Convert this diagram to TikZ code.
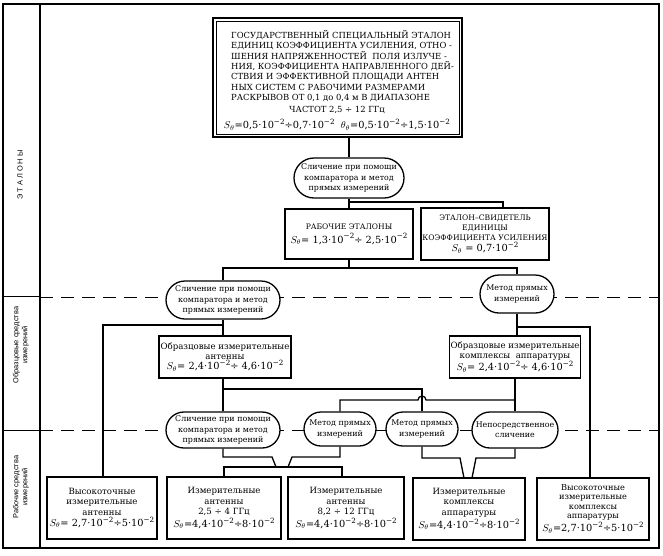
\documentclass[tikz,border=0pt]{standalone}
\usepackage{fontspec}
\setmainfont{DejaVu Serif}
\setsansfont{Liberation Sans}
\usetikzlibrary{shapes.misc}
\newcommand\ex[1]{\raisebox{0.42em}{\fontsize{7.2}{8}\selectfont #1}}
\newcommand\tm{·10\ex{−2}}
\newcommand\Sz{$S_\theta$}
\newcommand\fm[1]{{\fontsize{9.8}{11}\selectfont #1}}
\begin{document}
\begin{tikzpicture}[x=1pt,y=-1pt,
  ln/.style={line width=1.3pt},
  rbox/.style={draw, line width=1.6pt, fill=white, inner sep=1pt, align=center, font=\fontsize{8.6}{10.4}\selectfont},
  cbox/.style={rbox, font=\fontsize{7.6}{10}\selectfont},
  oval/.style={rounded rectangle, draw, line width=1.3pt, fill=white, inner sep=1pt, align=center, font=\fontsize{7.9}{10.3}\selectfont},
  dsh/.style={line width=1pt, dash pattern=on 13pt off 8pt},
  lab/.style={font=\sffamily\fontsize{7.4}{9}\selectfont, rotate=90, align=center},
  capt/.style={inner sep=0pt, font=\fontsize{8.4}{10.4}\selectfont}
]
\useasboundingbox (0,0) rectangle (663,555);
% frame
\draw[line width=1.2pt] (3,4) rectangle (659,548);
\draw[line width=1.2pt] (40,4) -- (40,548);
\draw[line width=1pt] (3,296) -- (40,296) (3,430) -- (40,430);
\draw[dsh] (40,297) -- (659,297);
\draw[dsh] (40,430) -- (659,430);
% side labels
\node[lab] (l1) at (20,175) {Э\ Т\ А\ Л\ О\ Н\ Ы};
\node[lab] (l2) at (21,345) {Образцовые средства\\измерений};
\node[lab] (l3) at (21,487) {Рабочие средства\\измерений};
% top box
\node[draw, line width=1.8pt, minimum width=249, minimum height=119, inner sep=0] (top) at (337.5,77.5) {};
\draw[line width=0.6pt] ([shift={(4,4)}]top.north west) rectangle ([shift={(-4,-4)}]top.south east);
\node[capt, anchor=north west, align=left] (toptxt) at (231,30) {ГОСУДАРСТВЕННЫЙ СПЕЦИАЛЬНЫЙ ЭТАЛОН\\
ЕДИНИЦ КОЭФФИЦИЕНТА УСИЛЕНИЯ, ОТНО -\\
ШЕНИЯ НАПРЯЖЕННОСТЕЙ\ \ ПОЛЯ ИЗЛУЧЕ -\\
НИЯ, КОЭФФИЦИЕНТА НАПРАВЛЕННОГО ДЕЙ-\\
СТВИЯ И ЭФФЕКТИВНОЙ ПЛОЩАДИ АНТЕН\\
НЫХ СИСТЕМ С РАБОЧИМИ РАЗМЕРАМИ\\
РАСКРЫВОВ ОТ 0,1 до 0,4 м В ДИАПАЗОНЕ};
\node[capt] (topfreq) at (337,110) {ЧАСТОТ 2,5 ÷ 12 ГГц};
\node[inner sep=0] (topform) at (337,125) {\fm{\Sz=0,5\tm÷0,7\tm\ \ $\theta_\theta$=0,5\tm÷1,5\tm}};
% level 1
\node[oval, minimum width=112, minimum height=40] (ov1) at (349,178) {Сличение при помощи\\компаратора и метод\\прямых измерений};
\node[cbox, minimum width=128, minimum height=50] (we1) at (349,234) {РАБОЧИЕ ЭТАЛОНЫ\\[4pt]\fm{\Sz= 1,3\tm ÷ 2,5\tm}};
\node[cbox, minimum width=128, minimum height=52, font=\fontsize{7.6}{9.8}\selectfont] (we2) at (485,234) {ЭТАЛОН–СВИДЕТЕЛЬ\\ЕДИНИЦЫ\\КОЭФФИЦИЕНТА УСИЛЕНИЯ\\\fm{\Sz\ = 0,7\tm}};
% level 2
\node[oval, minimum width=116, minimum height=38] (ov2) at (223,300) {Сличение при помощи\\компаратора и метод\\прямых измерений};
\node[oval, minimum width=76, minimum height=38] (ov3) at (517,294) {Метод прямых\\измерений};
\node[rbox, minimum width=132, minimum height=42] (ob1) at (225,357) {Образцовые измерительные\\антенны\\\fm{\Sz= 2,4\tm÷ 4,6\tm}};
\node[rbox, minimum width=130, minimum height=42] (ob2) at (515,357) {Образцовые измерительные\\комплексы\ \ аппаратуры\\\fm{\Sz= 2,4\tm÷ 4,6\tm}};
% level 3 ovals
\node[oval, minimum width=116, minimum height=36] (ov4) at (223,430) {Сличение при помощи\\компаратора и метод\\прямых измерений};
\node[oval, minimum width=74, minimum height=34] (ov5) at (340,429) {Метод прямых\\измерений};
\node[oval, minimum width=74, minimum height=34] (ov6) at (422,429) {Метод прямых\\измерений};
\node[oval, minimum width=88, minimum height=36] (ov7) at (515,430) {Непосредственное\\сличение};
% bottom boxes
\node[rbox, minimum width=110, minimum height=62] (hb1) at (102,508) {Высокоточные\\измерительные\\антенны\\[1pt]\fm{\Sz= 2,7\tm÷5\tm}};
\node[rbox, minimum width=114, minimum height=62] (hb2) at (224,508) {Измерительные\\антенны\\2,5 ÷ 4 ГГц\\[1pt]\fm{\Sz=4,4\tm÷8\tm}};
\node[rbox, minimum width=116, minimum height=62] (hb3) at (346,508) {Измерительные\\антенны\\8,2 ÷ 12 ГГц\\[1pt]\fm{\Sz=4,4\tm÷8\tm}};
\node[rbox, minimum width=112, minimum height=62] (hb4) at (469,509) {Измерительные\\комплексы\\аппаратуры\\[1pt]\fm{\Sz=4,4\tm÷8\tm}};
\node[rbox, minimum width=112, minimum height=62, font=\fontsize{8.2}{9.4}\selectfont] (hb5) at (593,509) {Высокоточные\\измерительные\\комплексы\\аппаратуры\\[1pt]\fm{\Sz=2,7\tm÷5\tm}};
% connectors level 1
\draw[ln] (top.south -| ov1.north) -- (ov1.north);
\draw[ln] (ov1.south) -- (we1.north);
\coordinate (j1) at (349,202);
\coordinate (j1r) at (503,202);
\draw[ln] (j1) -- (j1r) -- (j1r |- we2.north);
% connectors level 2
\coordinate (j2) at (349,268);
\coordinate (j2l) at (223,268);
\coordinate (j2r) at (517,268);
\draw[ln] (we1.south) -- (j2);
\draw[ln] (ov2.north) -- (j2l) -- (j2r) -- (ov3.north);
\draw[ln] (ov2.south) -- (ov2.south |- ob1.north);
\draw[ln] (ov3.south) -- (ov3.south |- ob2.north);
\coordinate (j3) at (223,325);
\coordinate (j3l) at (103,325);
\draw[ln] (j3) -- (j3l) -- (j3l |- hb1.north);
\coordinate (j4) at (517,327);
\coordinate (j4r) at (590,327);
\draw[ln] (j4) -- (j4r) -- (j4r |- hb5.north);
% connectors level 3
\draw[ln] (ov4.north |- ob1.south) -- (ov4.north);
\coordinate (j5) at (223,389);
\coordinate (j5r) at (422,389);
\draw[ln] (j5) -- (j5r) -- (ov6.north);
\draw[ln] (ob2.south) -- (ov7.north);
\coordinate (j6) at (515,400);
\coordinate (j6l) at (340,400);
\draw[ln] (j6) -- (426,400) arc[start angle=0, end angle=-180, radius=4] -- (j6l) -- (ov5.north);
% funnel to antennas
\coordinate (fa1) at (272,457);
\coordinate (fa2) at (276,467);
\coordinate (fa3) at (292,457);
\coordinate (fa4) at (288,467);
\coordinate (fal) at (224,467);
\coordinate (far) at (342,467);
\draw[ln] (ov4.south) |- (fa1) -- (fa2);
\draw[ln] (ov5.south) |- (fa3) -- (fa4);
\draw[ln] (hb2.north) -- (fal) -- (far) -- (far |- hb3.north);
% funnel to complexes
\coordinate (fb1) at (460,458);
\coordinate (fb2) at (464,478);
\coordinate (fb3) at (476,458);
\coordinate (fb4) at (472,478);
\draw[ln] (ov6.south) |- (fb1) -- (fb2);
\draw[ln] (ov7.south) |- (fb3) -- (fb4);
\end{tikzpicture}
\end{document}
